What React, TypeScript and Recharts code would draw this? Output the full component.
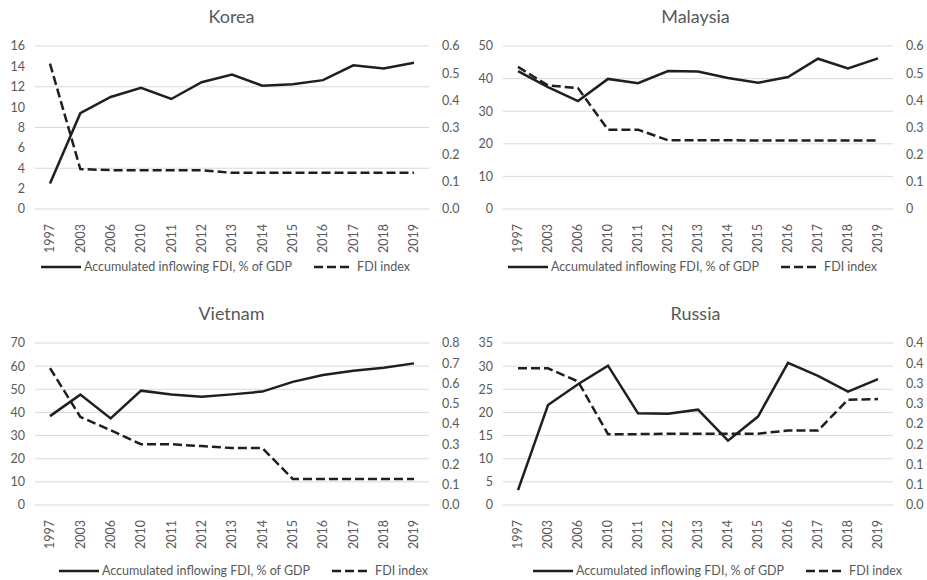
import React from 'react';
import { LineChart, Line, XAxis, YAxis, CartesianGrid, Legend } from 'recharts';

const YEARS = ['1997', '2003', '2006', '2010', '2011', '2012', '2013', '2014', '2015', '2016', '2017', '2018', '2019'];

const KOREA_FDI = [2.5, 9.4, 11.0, 11.9, 10.8, 12.45, 13.2, 12.1, 12.25, 12.65, 14.1, 13.8, 14.35];
const KOREA_INDEX = [0.535, 0.147, 0.143, 0.143, 0.143, 0.143, 0.133, 0.133, 0.133, 0.133, 0.133, 0.133, 0.133];
const KOREA_LEFT_TICKS = [0, 2, 4, 6, 8, 10, 12, 14, 16];
const KOREA_RIGHT_TICKS = [0, 0.1, 0.2, 0.3, 0.4, 0.5, 0.6];
const KOREA_RIGHT_LABELS = ['0.0', '0.1', '0.2', '0.3', '0.4', '0.5', '0.6'];

const MALAYSIA_FDI = [42.3, 37.4, 33.1, 39.9, 38.6, 42.3, 42.2, 40.2, 38.7, 40.5, 46.1, 43.1, 46.2];
const MALAYSIA_INDEX = [0.523, 0.455, 0.445, 0.292, 0.292, 0.253, 0.253, 0.253, 0.252, 0.252, 0.252, 0.252, 0.252];
const MALAYSIA_LEFT_TICKS = [0, 10, 20, 30, 40, 50];
const MALAYSIA_RIGHT_TICKS = [0, 0.1, 0.2, 0.3, 0.4, 0.5, 0.6];
const MALAYSIA_RIGHT_LABELS = ['0', '0.1', '0.2', '0.3', '0.4', '0.5', '0.6'];

const VIETNAM_FDI = [38.4, 47.7, 37.4, 49.4, 47.7, 46.8, 47.8, 49.0, 53.2, 56.2, 58.0, 59.3, 61.2];
const VIETNAM_INDEX = [0.676, 0.435, 0.369, 0.3, 0.3, 0.291, 0.281, 0.281, 0.129, 0.129, 0.129, 0.128, 0.128];
const VIETNAM_LEFT_TICKS = [0, 10, 20, 30, 40, 50, 60, 70];
const VIETNAM_RIGHT_TICKS = [0, 0.1, 0.2, 0.3, 0.4, 0.5, 0.6, 0.7, 0.8];
const VIETNAM_RIGHT_LABELS = ['0.0', '0.1', '0.2', '0.3', '0.4', '0.5', '0.6', '0.7', '0.8'];

const RUSSIA_FDI = [3.2, 21.6, 26.1, 30.1, 19.8, 19.7, 20.6, 13.9, 19.1, 30.7, 27.9, 24.5, 27.2];
const RUSSIA_INDEX = [0.3375, 0.3375, 0.305, 0.175, 0.175, 0.176, 0.176, 0.176, 0.176, 0.184, 0.184, 0.26, 0.2615];
const RUSSIA_LEFT_TICKS = [0, 5, 10, 15, 20, 25, 30, 35];
const RUSSIA_RIGHT_TICKS = [0, 0.05, 0.1, 0.15, 0.2, 0.25, 0.3, 0.35, 0.4];
const RUSSIA_RIGHT_LABELS = ['0.0', '0.1', '0.1', '0.2', '0.2', '0.3', '0.3', '0.4', '0.4'];

const FONT = 'Lato, "Noto Sans", sans-serif';
const TEXT = '#595959';
const INK = '#1f1f1f';

const YearTick = ({ x, y, payload }: any) => (
  <text
    x={x}
    y={y + 7}
    transform={`rotate(-90 ${x} ${y + 7})`}
    textAnchor="end"
    dy="0.35em"
    fontSize={12.5}
    fill={TEXT}
    fontFamily={FONT}
  >
    {payload.value}
  </text>
);

const makeLegend = (shift: number) => () => (
  <div
    style={{
      display: 'flex',
      justifyContent: 'center',
      alignItems: 'center',
      fontFamily: FONT,
      fontSize: 12.5,
      color: TEXT,
      transform: `translateX(${shift}px)`,
    }}
  >
    <svg width={40} height={10}>
      <line x1={0} y1={5} x2={40} y2={5} stroke={INK} strokeWidth={2.5} />
    </svg>
    <span style={{ marginLeft: 3, marginRight: 22 }}>Accumulated inflowing FDI, % of GDP</span>
    <svg width={37} height={10}>
      <line x1={0} y1={5} x2={37} y2={5} stroke={INK} strokeWidth={2.5} strokeDasharray="9 4" />
    </svg>
    <span style={{ marginLeft: 6 }}>FDI index</span>
  </div>
);

interface PanelProps {
  title: string;
  left: number;
  top: number;
  leftWidth: number;
  axisHeight: number;
  bottomGap: number;
  legendShift: number;
  fdi: number[];
  index: number[];
  leftTicks: number[];
  rightTicks: number[];
  rightLabels: string[];
}

function Panel(props: PanelProps) {
  const { title, left, top, leftWidth, axisHeight, bottomGap, legendShift, fdi, index, leftTicks, rightTicks, rightLabels } = props;
  const data = YEARS.map((year, i) => ({ year, fdi: fdi[i], index: index[i] }));
  return (
    <div style={{ position: 'absolute', left, top, width: 463, height: 290 }}>
      <div
        style={{
          position: 'absolute',
          top: 6,
          left: 0,
          width: 463,
          textAlign: 'center',
          fontFamily: FONT,
          fontSize: 18,
          lineHeight: '20px',
          color: '#595959',
        }}
      >
        {title}
      </div>
      <LineChart width={463} height={290} data={data} margin={{ top: 46, right: 0, bottom: bottomGap, left: 0 }}>
        <CartesianGrid vertical={false} stroke="#d9d9d9" yAxisId="left" />
        <XAxis
          dataKey="year"
          axisLine={false}
          tickLine={false}
          interval={0}
          height={axisHeight}
          padding={{ left: 15, right: 15 }}
          tick={<YearTick />}
        />
        <YAxis
          yAxisId="left"
          domain={[leftTicks[0], leftTicks[leftTicks.length - 1]]}
          ticks={leftTicks}
          width={leftWidth}
          axisLine={false}
          tickLine={false}
          tickMargin={4}
          tick={{ fontSize: 12.5, fill: TEXT, fontFamily: FONT }}
        />
        <YAxis
          yAxisId="right"
          orientation="right"
          domain={[rightTicks[0], rightTicks[rightTicks.length - 1]]}
          ticks={rightTicks}
          tickFormatter={(_v: number, i: number) => rightLabels[i]}
          width={34}
          axisLine={false}
          tickLine={false}
          tickMargin={7}
          tick={{ fontSize: 12.5, fill: TEXT, fontFamily: FONT, textAnchor: 'start' }}
        />
        <Line yAxisId="left" type="linear" dataKey="fdi" stroke={INK} strokeWidth={2.5} dot={false} isAnimationActive={false} />
        <Line
          yAxisId="right"
          type="linear"
          dataKey="index"
          stroke={INK}
          strokeWidth={2.5}
          strokeDasharray="9 4"
          dot={false}
          isAnimationActive={false}
        />
        <Legend verticalAlign="bottom" content={makeLegend(legendShift)} />
      </LineChart>
    </div>
  );
}

export default function App() {
  return (
    <div style={{ position: 'absolute', left: 0, top: 0, width: 927, height: 580, background: '#fff', overflow: 'hidden' }}>
      <Panel title="Korea" left={0} top={0} leftWidth={35} axisHeight={50} bottomGap={16} legendShift={-6} fdi={KOREA_FDI} index={KOREA_INDEX}
        leftTicks={KOREA_LEFT_TICKS} rightTicks={KOREA_RIGHT_TICKS} rightLabels={KOREA_RIGHT_LABELS} />
      <Panel title="Malaysia" left={464} top={0} leftWidth={39} axisHeight={50} bottomGap={16} legendShift={-3} fdi={MALAYSIA_FDI} index={MALAYSIA_INDEX}
        leftTicks={MALAYSIA_LEFT_TICKS} rightTicks={MALAYSIA_RIGHT_TICKS} rightLabels={MALAYSIA_RIGHT_LABELS} />
      <Panel title="Vietnam" left={0} top={297} leftWidth={35} axisHeight={58} bottomGap={9} legendShift={12} fdi={VIETNAM_FDI} index={VIETNAM_INDEX}
        leftTicks={VIETNAM_LEFT_TICKS} rightTicks={VIETNAM_RIGHT_TICKS} rightLabels={VIETNAM_RIGHT_LABELS} />
      <Panel title="Russia" left={464} top={297} leftWidth={39} axisHeight={58} bottomGap={9} legendShift={22} fdi={RUSSIA_FDI} index={RUSSIA_INDEX}
        leftTicks={RUSSIA_LEFT_TICKS} rightTicks={RUSSIA_RIGHT_TICKS} rightLabels={RUSSIA_RIGHT_LABELS} />
    </div>
  );
}
